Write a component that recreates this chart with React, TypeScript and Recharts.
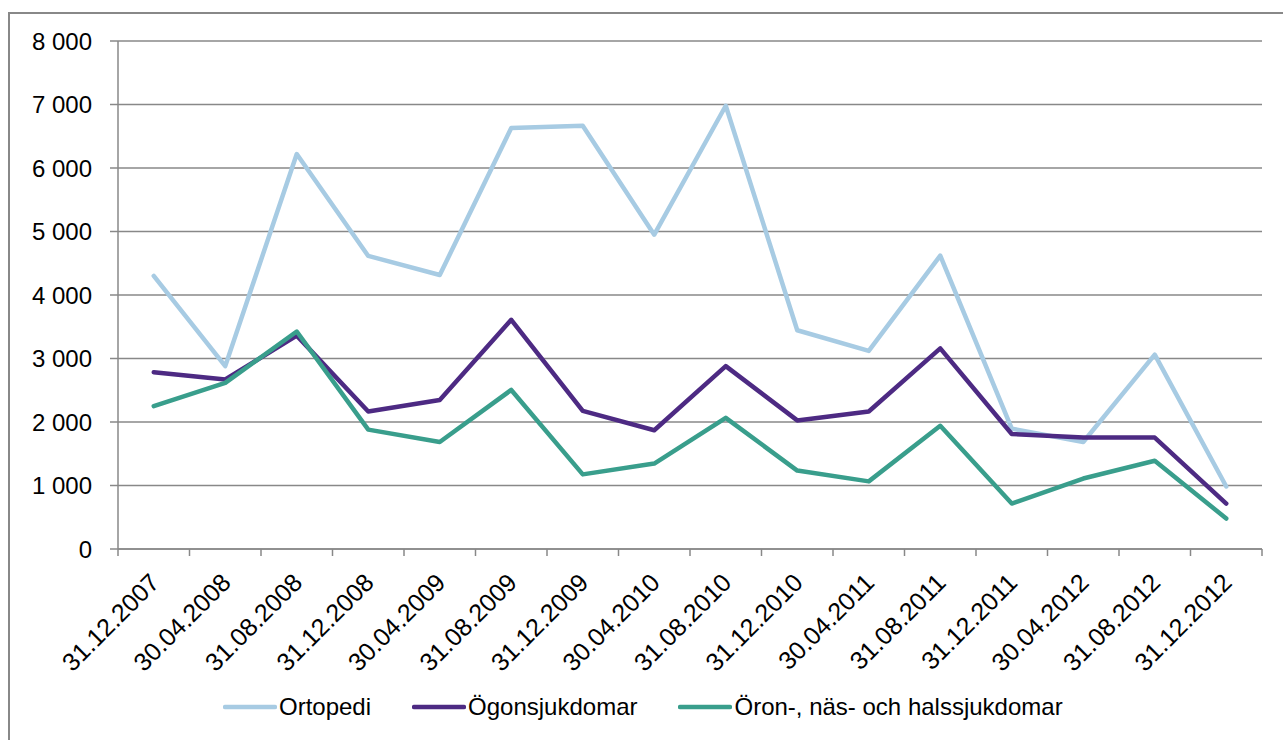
import { LineChart, Line, XAxis, YAxis, CartesianGrid } from 'recharts';

const dates = [
    '31.12.2007', '30.04.2008', '31.08.2008', '31.12.2008',
    '30.04.2009', '31.08.2009', '31.12.2009', '30.04.2010',
    '31.08.2010', '31.12.2010', '30.04.2011', '31.08.2011',
    '31.12.2011', '30.04.2012', '31.08.2012', '31.12.2012',
];
const ortopedi = [4300, 2880, 6220, 4615, 4315, 6630, 6665, 4950, 6980, 3445, 3120, 4620, 1895, 1685, 3060, 985];
const ogonsjukdomar = [2785, 2670, 3360, 2165, 2345, 3610, 2175, 1870, 2880, 2025, 2165, 3160, 1810, 1755, 1755, 715];
const oronNasHals = [2250, 2615, 3425, 1880, 1685, 2505, 1175, 1345, 2065, 1235, 1065, 1940, 715, 1110, 1390, 480];
const yTicks = [0, 1000, 2000, 3000, 4000, 5000, 6000, 7000, 8000];

const series = [
    { key: 'ortopedi', name: 'Ortopedi', color: '#a7cbe3' },
    { key: 'ogon', name: 'Ögonsjukdomar', color: '#4d2a83' },
    { key: 'oron', name: 'Öron-, näs- och halssjukdomar', color: '#399e8c' },
];

const data = dates.map((date, i) => ({
    date,
    ortopedi: ortopedi[i],
    ogon: ogonsjukdomar[i],
    oron: oronNasHals[i],
}));

const W = 1283;
const H = 740;
const X_HEIGHT = 150;
const margin = { top: 41, right: 21, bottom: 191 - X_HEIGHT, left: 0 };
const Y_WIDTH = 118;
const FONT = '"Liberation Sans", Arial, sans-serif';
const GRID = '#888888';
const halfBand = (W - margin.left - margin.right - Y_WIDTH) / dates.length / 2;

const fmt = (v: number) => (v >= 1000 ? `${Math.floor(v / 1000)} ${String(v % 1000).padStart(3, '0')}` : String(v));

function XTick({ x, y, payload, index }: any) {
    const last = index === dates.length - 1;
    return (
        <g>
            <line x1={x - halfBand} y1={y} x2={x - halfBand} y2={y + 7} stroke={GRID} strokeWidth={1.5} />
            {last && <line x1={x + halfBand} y1={y} x2={x + halfBand} y2={y + 7} stroke={GRID} strokeWidth={1.5} />}
            <text
                x={0}
                y={0}
                dy="0.35em"
                transform={`translate(${x + 1},${y + 29}) rotate(-45)`}
                textAnchor="end"
                fontSize={25}
                fontFamily={FONT}
                fill="#000"
            >
                {payload.value}
            </text>
        </g>
    );
}

function MyLegend() {
    return (
        <div
            style={{
                position: 'absolute', left: 223, top: 693, display: 'flex', alignItems: 'center',
                fontFamily: FONT, fontSize: 24, color: '#000',
            }}
        >
            {series.map((s) => (
                <div key={s.key} style={{ display: 'flex', alignItems: 'center', marginRight: 41 }}>
                    <svg width={54} height={10}>
                        <line x1={2} y1={5} x2={52} y2={5} stroke={s.color} strokeWidth={4.5} strokeLinecap="round" />
                    </svg>
                    <span style={{ marginLeft: 2, whiteSpace: 'nowrap' }}>{s.name}</span>
                </div>
            ))}
        </div>
    );
}

export default function App() {
    return (
        <div style={{ position: 'absolute', left: 0, top: 0, width: W, height: H, overflow: 'hidden', background: '#fff' }}>
            <div style={{ position: 'absolute', left: 8, top: 12, width: 1400, height: 900, border: `2px solid ${GRID}` }} />
            <div style={{ position: 'absolute', left: 0, top: 0 }}>
                <LineChart width={W} height={H} data={data} margin={margin}>
                    <CartesianGrid horizontal vertical={false} stroke={GRID} strokeWidth={1.5} />
                    <XAxis
                        dataKey="date"
                        scale="band"
                        interval={0}
                        tickSize={0}
                        tickMargin={0}
                        tickLine={false}
                        axisLine={{ stroke: GRID, strokeWidth: 1.5 }}
                        tick={<XTick />}
                        height={X_HEIGHT}
                    />
                    <YAxis
                        width={Y_WIDTH}
                        domain={[0, 8000]}
                        ticks={yTicks}
                        interval={0}
                        tickSize={8}
                        tickMargin={18}
                        tickFormatter={fmt}
                        axisLine={{ stroke: GRID, strokeWidth: 1.5 }}
                        tickLine={{ stroke: GRID, strokeWidth: 1.5 }}
                        tick={{ fill: '#000', fontSize: 24, fontFamily: FONT }}
                    />
                    {series.map((s) => (
                        <Line
                            key={s.key}
                            dataKey={s.key}
                            name={s.name}
                            stroke={s.color}
                            strokeWidth={4.5}
                            strokeLinejoin="round"
                            strokeLinecap="round"
                            dot={false}
                            activeDot={false}
                            type="linear"
                            isAnimationActive={false}
                        />
                    ))}
                </LineChart>
            </div>
            <MyLegend />
        </div>
    );
}
